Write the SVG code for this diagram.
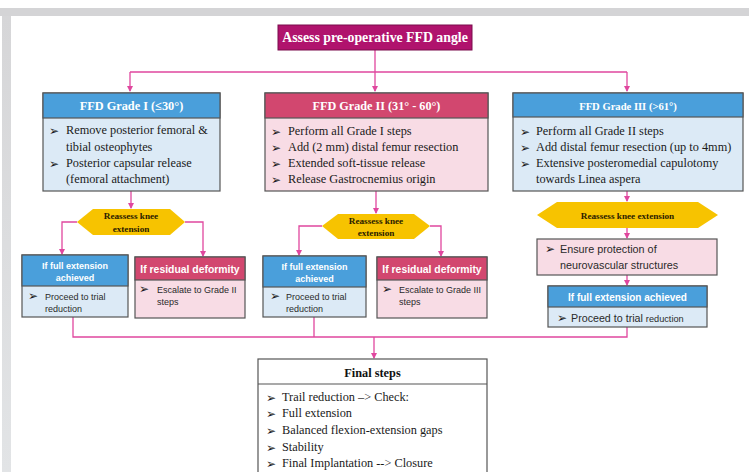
<svg xmlns="http://www.w3.org/2000/svg" width="749" height="472" viewBox="0 0 749 472">
<defs>
<marker id="ah" viewBox="0 0 6 6" refX="5" refY="3" markerWidth="6" markerHeight="6" markerUnits="userSpaceOnUse" orient="auto">
<path d="M0,0 L6,3 L0,6 z" fill="#e0479e"/>
</marker>
<linearGradient id="strip" x1="0" y1="0" x2="0" y2="1">
<stop offset="0" stop-color="#d6d6d8"/>
<stop offset="1" stop-color="#e2e4e6"/>
</linearGradient>
</defs>
<style>
.bx{stroke:#555;stroke-width:1.2}
.ttl{font-family:"Liberation Serif",serif;font-weight:bold;fill:#fff}
.sr{font-family:"Liberation Serif",serif;font-size:12.3px;fill:#1a1a1a}
.bu{font-family:"DejaVu Sans",sans-serif;font-size:12px;fill:#1a1a1a}
.dm{font-family:"Liberation Serif",serif;font-weight:bold;font-size:9.2px;fill:#2a2000}
.sh{font-family:"Liberation Sans",sans-serif;font-weight:bold;fill:#fff}
.ss{font-family:"Liberation Sans",sans-serif;fill:#2a2a2a}
.cn{fill:none;stroke:#e0479e;stroke-width:1.3}
.blueH{fill:#4a9fdb}
.blueB{fill:#dceaf6}
.pinkH{fill:#d2476f}
.pinkB{fill:#f8dce5}
.gold{fill:#f7c300}
</style>
<rect x="0" y="0" width="749" height="472" fill="#fff"/>
<rect x="0" y="8" width="749" height="8" fill="#d4d4d6"/>
<rect x="2" y="16" width="9" height="456" fill="url(#strip)"/>

<g id="connectors">
<path class="cn" d="M375,50 V72 M130,72 H627"/>
<path class="cn" d="M130,72 V91" marker-end="url(#ah)"/>
<path class="cn" d="M375,72 V91" marker-end="url(#ah)"/>
<path class="cn" d="M627,72 V91" marker-end="url(#ah)"/>
<path class="cn" d="M131,191 V208" marker-end="url(#ah)"/>
<path class="cn" d="M376,191 V213" marker-end="url(#ah)"/>
<path class="cn" d="M627,191 V201" marker-end="url(#ah)"/>
<path class="cn" d="M77,222 H62 V254" marker-end="url(#ah)"/>
<path class="cn" d="M185,222 H203 V256" marker-end="url(#ah)"/>
<path class="cn" d="M322,226 H299 V255" marker-end="url(#ah)"/>
<path class="cn" d="M430,226 H441 V256" marker-end="url(#ah)"/>
<path class="cn" d="M627,228 V238" marker-end="url(#ah)"/>
<path class="cn" d="M627,275 V285" marker-end="url(#ah)"/>
<path class="cn" d="M73,317 V337 H627 V327 M314,317 V337"/>
<path class="cn" d="M374,337 V358" marker-end="url(#ah)"/>
</g>

<g id="title">
<rect x="278" y="25" width="194" height="25" fill="#b0136d" stroke="#7a0d4c" stroke-width="1"/>
<text class="ttl" x="375" y="42" font-size="13.8" text-anchor="middle">Assess pre-operative FFD angle</text>
</g>

<g id="grade1">
<rect class="bx blueB" x="43" y="93" width="177" height="98"/>
<rect class="bx blueH" x="43" y="93" width="177" height="25"/>
<text class="ttl" x="131.5" y="110" font-size="12.3" text-anchor="middle">FFD Grade I (≤30°)</text>
<text class="bu" x="49" y="135">➢</text><text class="sr" x="66" y="134">Remove posterior femoral &amp;</text>
<text class="sr" x="66" y="151">tibial osteophytes</text>
<text class="bu" x="49" y="168">➢</text><text class="sr" x="66" y="167">Posterior capsular release</text>
<text class="sr" x="66" y="183">(femoral attachment)</text>
</g>

<g id="grade2">
<rect class="bx pinkB" x="265" y="93" width="223" height="98"/>
<rect class="bx pinkH" x="265" y="93" width="223" height="25"/>
<text class="ttl" x="376.5" y="110" font-size="12.2" text-anchor="middle">FFD Grade II (31° - 60°)</text>
<text class="bu" x="271" y="136">➢</text><text class="sr" x="288" y="135">Perform all Grade I steps</text>
<text class="bu" x="271" y="152">➢</text><text class="sr" x="288" y="151">Add (2 mm) distal femur resection</text>
<text class="bu" x="271" y="168">➢</text><text class="sr" x="288" y="167">Extended soft-tissue release</text>
<text class="bu" x="271" y="184">➢</text><text class="sr" x="288" y="183">Release Gastrocnemius origin</text>
</g>

<g id="grade3">
<rect class="bx blueB" x="513" y="93" width="230" height="98"/>
<rect class="bx blueH" x="513" y="93" width="230" height="24"/>
<text class="ttl" x="628" y="110" font-size="10.6" text-anchor="middle">FFD Grade III (&gt;61°)</text>
<text class="bu" x="520" y="136">➢</text><text class="sr" x="536" y="135">Perform all Grade II steps</text>
<text class="bu" x="520" y="152">➢</text><text class="sr" x="536" y="151">Add distal femur resection (up to 4mm)</text>
<text class="bu" x="520" y="168">➢</text><text class="sr" x="536" y="167">Extensive posteromedial capulotomy</text>
<text class="sr" x="536" y="183">towards Linea aspera</text>
</g>

<g id="reassess1">
<polygon class="gold" points="77,222 93,209 170,209 185,222 170,235 93,235"/>
<text class="dm" x="131" y="219" text-anchor="middle">Reassess knee</text>
<text class="dm" x="131" y="232" text-anchor="middle">extension</text>
</g>

<g id="reassess2">
<polygon class="gold" points="322,226 338,214 414,214 430,226 414,239 338,239"/>
<text class="dm" x="376" y="224" text-anchor="middle">Reassess knee</text>
<text class="dm" x="376" y="236" text-anchor="middle">extension</text>
</g>

<g id="reassess3">
<polygon class="gold" points="537,215 557,202 698,202 718,215 698,228 557,228"/>
<text class="dm" x="627.5" y="219" text-anchor="middle">Reassess knee extension</text>
</g>

<g id="full1">
<rect class="bx blueB" x="22" y="255" width="106" height="62"/>
<rect class="bx blueH" x="22" y="255" width="106" height="31"/>
<text class="sh" x="75" y="268.5" font-size="9" text-anchor="middle">If full extension</text>
<text class="sh" x="75" y="281" font-size="9" text-anchor="middle">achieved</text>
<text class="bu" x="28" y="300" font-size="9.5">➢</text><text class="ss" x="45" y="300" font-size="9">Proceed to trial</text>
<text class="ss" x="45" y="311.5" font-size="9">reduction</text>
</g>

<g id="residual1">
<rect class="bx pinkB" x="135" y="257" width="110" height="61"/>
<rect class="bx pinkH" x="135" y="257" width="110" height="23"/>
<text class="sh" x="190" y="272.5" font-size="10.4" text-anchor="middle">If residual deformity</text>
<text class="bu" x="139" y="293" font-size="9.5">➢</text><text class="ss" x="157" y="293" font-size="9">Escalate to Grade II</text>
<text class="ss" x="157" y="305" font-size="9">steps</text>
</g>

<g id="full2">
<rect class="bx blueB" x="263" y="256" width="103" height="61"/>
<rect class="bx blueH" x="263" y="256" width="103" height="31"/>
<text class="sh" x="314.5" y="269.5" font-size="9" text-anchor="middle">If full extension</text>
<text class="sh" x="314.5" y="282" font-size="9" text-anchor="middle">achieved</text>
<text class="bu" x="270" y="300" font-size="9.5">➢</text><text class="ss" x="286" y="300" font-size="9">Proceed to trial</text>
<text class="ss" x="286" y="312" font-size="9">reduction</text>
</g>

<g id="residual2">
<rect class="bx pinkB" x="377" y="257" width="110" height="61"/>
<rect class="bx pinkH" x="377" y="257" width="110" height="23"/>
<text class="sh" x="432" y="272.5" font-size="10.4" text-anchor="middle">If residual deformity</text>
<text class="bu" x="382" y="293" font-size="9.5">➢</text><text class="ss" x="399" y="293" font-size="9">Escalate to Grade III</text>
<text class="ss" x="399" y="305" font-size="9">steps</text>
</g>

<g id="protect3">
<rect class="bx pinkB" x="537" y="239" width="180" height="36"/>
<text class="bu" x="545" y="253" font-size="10.5">➢</text><text class="ss" x="560" y="253" font-size="10.8">Ensure protection of</text>
<text class="ss" x="560" y="269" font-size="10.8">neurovascular structures</text>
</g>

<g id="full3">
<rect class="bx blueB" x="548" y="286" width="159" height="41"/>
<rect class="bx blueH" x="548" y="286" width="159" height="21"/>
<text class="sh" x="627.5" y="300.5" font-size="10" text-anchor="middle">If full extension achieved</text>
<text class="bu" x="557" y="321.5" font-size="10.5">➢</text><text class="ss" x="571" y="321.5" font-size="10.7">Proceed to trial <tspan font-size="9.2">reduction</tspan></text>
</g>

<g id="final">
<rect class="bx" x="258" y="359" width="229" height="125" fill="#fff"/>
<line x1="258" y1="384" x2="487" y2="384" stroke="#555" stroke-width="1.2"/>
<text x="372.5" y="377" font-family="Liberation Serif, serif" font-weight="bold" font-size="12.3" fill="#111" text-anchor="middle">Final steps</text>
<text class="bu" x="266" y="402">➢</text><text class="sr" x="282" y="401">Trail reduction –&gt; Check:</text>
<text class="bu" x="266" y="418">➢</text><text class="sr" x="282" y="417">Full extension</text>
<text class="bu" x="266" y="435">➢</text><text class="sr" x="282" y="434">Balanced flexion-extension gaps</text>
<text class="bu" x="266" y="452">➢</text><text class="sr" x="282" y="451">Stability</text>
<text class="bu" x="266" y="468">➢</text><text class="sr" x="282" y="467">Final Implantation --&gt; Closure</text>
</g>
</svg>
